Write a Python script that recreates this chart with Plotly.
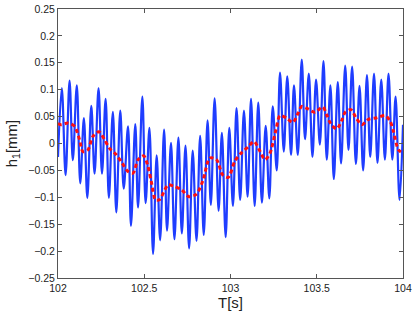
import plotly.graph_objects as go

# Blue signal: alternating extrema (time [s], h1 [mm])
blue_t = [102.000, 102.022, 102.044, 102.067, 102.086, 102.109, 102.129, 102.150, 102.170,
          102.193, 102.212, 102.235, 102.255, 102.276, 102.295, 102.318, 102.338, 102.361,
          102.381, 102.406, 102.423, 102.448, 102.464, 102.489, 102.508, 102.530, 102.551,
          102.572, 102.592, 102.615, 102.632, 102.655, 102.675, 102.698, 102.718, 102.739,
          102.760, 102.781, 102.803, 102.824, 102.845, 102.867, 102.886, 102.908, 102.931,
          102.950, 102.972, 102.993, 103.014, 103.035, 103.056, 103.078, 103.099, 103.119,
          103.140, 103.161, 103.182, 103.204, 103.225, 103.245, 103.268, 103.287, 103.309,
          103.329, 103.351, 103.368, 103.390, 103.413, 103.432, 103.454, 103.475, 103.496,
          103.518, 103.539, 103.558, 103.579, 103.599, 103.622, 103.641, 103.665, 103.684,
          103.705, 103.727, 103.748, 103.769, 103.791, 103.810, 103.832, 103.852, 103.874,
          103.895, 103.916, 103.938, 103.957, 103.980, 104.000]
blue_h = [-0.025, 0.103, -0.059, 0.117, -0.031, 0.108, -0.074, 0.047, -0.101,
          0.070, -0.056, 0.103, -0.056, 0.083, -0.101, 0.059, -0.128, 0.061,
          -0.084, 0.032, -0.153, 0.036, -0.119, 0.087, -0.111, 0.029, -0.205,
          -0.022, -0.180, 0.026, -0.162, 0.001, -0.178, 0.011, -0.167, -0.004,
          -0.195, -0.013, -0.181, 0.014, -0.170, 0.043, -0.114, 0.084, -0.125,
          0.020, -0.174, 0.029, -0.116, 0.066, -0.105, 0.061, -0.099, 0.083,
          -0.116, 0.076, -0.110, 0.033, -0.102, 0.069, -0.050, 0.132, -0.015,
          0.125, -0.021, 0.108, -0.021, 0.156, 0.008, 0.130, -0.025, 0.119,
          -0.002, 0.153, -0.030, 0.108, -0.066, 0.114, -0.037, 0.145, -0.012,
          0.143, -0.038, 0.107, -0.050, 0.127, -0.025, 0.130, -0.036, 0.119,
          -0.030, 0.130, -0.030, 0.087, -0.105, 0.035]

# Red smoothed signal
red_t = [102.000, 102.019, 102.057, 102.096, 102.125, 102.144, 102.173, 102.202, 102.237,
         102.270, 102.299, 102.338, 102.367, 102.406, 102.435, 102.464, 102.497, 102.522,
         102.541, 102.566, 102.590, 102.619, 102.638, 102.667, 102.716, 102.760, 102.803,
         102.841, 102.880, 102.919, 102.954, 102.987, 103.026, 103.065, 103.103, 103.136,
         103.167, 103.200, 103.229, 103.264, 103.287, 103.326, 103.361, 103.393, 103.413,
         103.451, 103.490, 103.535, 103.558, 103.581, 103.616, 103.645, 103.665, 103.698,
         103.729, 103.762, 103.800, 103.849, 103.897, 103.926, 103.945, 103.974, 104.000]
red_h = [0.037, 0.035, 0.038, 0.032, 0.007, -0.015, -0.012, 0.013, 0.022,
         0.007, -0.009, -0.021, -0.034, -0.052, -0.055, -0.030, -0.023, -0.043,
         -0.071, -0.105, -0.104, -0.086, -0.077, -0.079, -0.086, -0.099, -0.094,
         -0.068, -0.027, -0.030, -0.058, -0.063, -0.032, -0.017, -0.006, 0.004,
         -0.012, -0.030, -0.018, 0.026, 0.052, 0.047, 0.039, 0.057, 0.069,
         0.064, 0.058, 0.068, 0.053, 0.037, 0.027, 0.043, 0.058, 0.063,
         0.047, 0.035, 0.045, 0.048, 0.052, 0.041, 0.022, -0.012, -0.018]

x_ticks = [102, 102.5, 103, 103.5, 104]
x_tick_text = ["102", "102.5", "103", "103.5", "104"]
y_ticks = [-0.25, -0.2, -0.15, -0.1, -0.05, 0, 0.05, 0.1, 0.15, 0.2, 0.25]
y_tick_text = ["\u22120.25", "\u22120.2", "\u22120.15", "\u22120.1", "\u22120.05", "0",
               "0.05", "0.1", "0.15", "0.2", "0.25"]

FONT = "Liberation Sans, Arial, sans-serif"

fig = go.Figure()
fig.add_trace(go.Scatter(x=blue_t, y=blue_h, mode="lines",
                         line=dict(color="#1f3dff", width=2.2, shape="spline", smoothing=1.0),
                         showlegend=False, hoverinfo="skip"))
fig.add_trace(go.Scatter(x=red_t, y=red_h, mode="lines",
                         line=dict(color="#ff1010", width=3, dash="4px,3px",
                                   shape="spline", smoothing=0.8),
                         showlegend=False, hoverinfo="skip"))

axis_common = dict(showgrid=False, zeroline=False, showline=True, linecolor="#555555",
                   linewidth=1, mirror="ticks", ticks="inside", ticklen=4, automargin=False,
                   tickcolor="#555555", tickfont=dict(family=FONT, size=10.5, color="#222222"))
fig.update_xaxes(range=[102, 104], tickvals=x_ticks, ticktext=x_tick_text,
                 title=dict(text="T[s]", font=dict(family=FONT, size=15, color="#222222"),
                            standoff=2),
                 **axis_common)
fig.update_yaxes(range=[-0.25, 0.25], tickvals=y_ticks, ticktext=y_tick_text,
                 title=dict(text="h<sub>1</sub>[mm]",
                            font=dict(family=FONT, size=15, color="#222222"),
                            standoff=7),
                 **axis_common)
fig.update_layout(width=415, height=314, margin=dict(l=58, r=12, t=9, b=36),
                  paper_bgcolor="white", plot_bgcolor="white")
fig.write_html("out.html", config={"displayModeBar": False},
               post_script="document.body.style.margin='0';document.body.style.overflow='hidden';")
